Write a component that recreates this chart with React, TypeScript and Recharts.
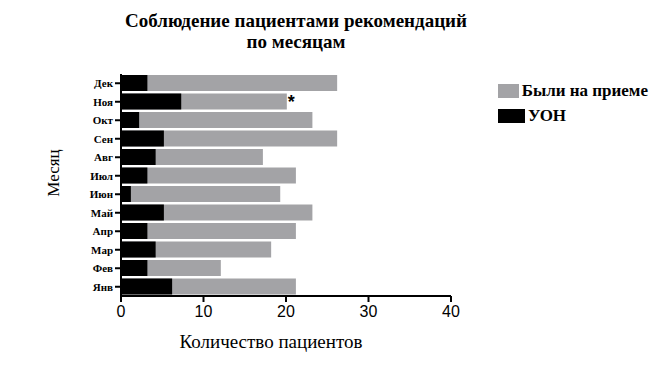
import React from "react";
import {
  BarChart,
  Bar,
  XAxis,
  YAxis,
  Legend,
  Label,
  LabelList,
} from "recharts";

const months = ["Янв", "Фев", "Мар", "Апр", "Май", "Июн", "Июл", "Авг", "Сен", "Окт", "Ноя", "Дек"];
const visited = [21.2, 12.1, 18.2, 21.2, 23.2, 19.3, 21.2, 17.2, 26.2, 23.2, 20.1, 26.2];
const uon = [6.2, 3.2, 4.2, 3.2, 5.2, 1.2, 3.2, 4.2, 5.2, 2.2, 7.3, 3.2];
const marks = ["", "", "", "", "", "", "", "", "", "", "*", ""];
const xTicks = [0, 10, 20, 30, 40];

const GRAY = "#a3a3a6";
const serif = "'Liberation Serif', 'Times New Roman', serif";
const sans = "'Liberation Sans', Arial, sans-serif";

const data = months.map((m, i) => ({
  month: m,
  visited: visited[i],
  uon: uon[i],
  mark: marks[i],
}));

const renderLegend = (props: any) => {
  const items = props.payload || [];
  return (
    <div>
      {items.map((p: any) => (
        <div
          key={p.value}
          style={{ display: "flex", alignItems: "center", height: 25 }}
        >
          <span
            style={{
              display: "inline-block",
              width: 27,
              height: 14,
              background: p.color,
              marginRight: 3,
            }}
          />
          <span
            style={{
              fontFamily: serif,
              fontWeight: "bold",
              fontSize: 17,
              color: "#000",
              whiteSpace: "nowrap",
            }}
          >
            {p.value}
          </span>
        </div>
      ))}
    </div>
  );
};

const renderMark = (props: any) => {
  const { x, y, width, value } = props;
  if (!value) return null;
  return (
    <text
      x={x + width + 1}
      y={y + 14}
      fontFamily={sans}
      fontWeight="bold"
      fontSize={18}
      fill="#000"
    >
      {value}
    </text>
  );
};

const App: React.FC = () => {
  return (
    <div
      style={{
        position: "absolute",
        left: 0,
        top: 0,
        width: 649,
        height: 367,
        background: "#fff",
      }}
    >
      <div
        style={{
          position: "absolute",
          left: 96,
          width: 400,
          top: 10,
          textAlign: "center",
          fontFamily: serif,
          fontWeight: "bold",
          fontSize: 19,
          lineHeight: "21px",
          color: "#000",
        }}
      >
        Соблюдение пациентами рекомендаций
        <br />
        по месяцам
      </div>
      <BarChart
        width={649}
        height={367}
        data={data}
        layout="vertical"
        margin={{ top: 74, right: 48, bottom: 41, left: 20 }}
        barGap={-16}
        barSize={16}
      >
        <XAxis
          type="number"
          domain={[0, 40]}
          ticks={xTicks}
          height={30}
          axisLine={{ stroke: "#000", strokeWidth: 2 }}
          tickLine={{ stroke: "#000", strokeWidth: 2 }}
          tickSize={6}
          tick={{ fill: "#000", fontFamily: sans, fontSize: 16, dy: 2 }}
        >
          <Label
            content={({ viewBox }: any) => (
              <text
                x={viewBox.x + viewBox.width / 2 - 15}
                y={viewBox.y + 52}
                textAnchor="middle"
                fontFamily={serif}
                fontSize={19}
                fill="#000"
              >
                Количество пациентов
              </text>
            )}
          />
        </XAxis>
        <YAxis
          type="category"
          dataKey="month"
          reversed
          width={101}
          axisLine={{ stroke: "#000", strokeWidth: 2 }}
          tickLine={{ stroke: "#000", strokeWidth: 2 }}
          tickSize={6}
          tick={{ fill: "#000", fontFamily: serif, fontWeight: "bold", fontSize: 11 }}
        >
          <Label
            content={({ viewBox }: any) => {
              const cx = viewBox.x + 33;
              const cy = viewBox.y + viewBox.height / 2 - 12;
              return (
                <text
                  x={cx}
                  y={cy}
                  textAnchor="middle"
                  dominantBaseline="central"
                  transform={`rotate(-90, ${cx}, ${cy})`}
                  fontFamily={serif}
                  fontSize={17}
                  fill="#000"
                >
                  Месяц
                </text>
              );
            }}
          />
        </YAxis>
        <Legend
          layout="vertical"
          verticalAlign="top"
          align="right"
          content={renderLegend}
          wrapperStyle={{ left: 498, top: 78, width: 150 }}
        />
        <Bar dataKey="visited" name="Были на приеме" fill={GRAY} isAnimationActive={false}>
          <LabelList dataKey="mark" content={renderMark} />
        </Bar>
        <Bar dataKey="uon" name="УОН" fill="#000" isAnimationActive={false} />
      </BarChart>
    </div>
  );
};

export default App;
